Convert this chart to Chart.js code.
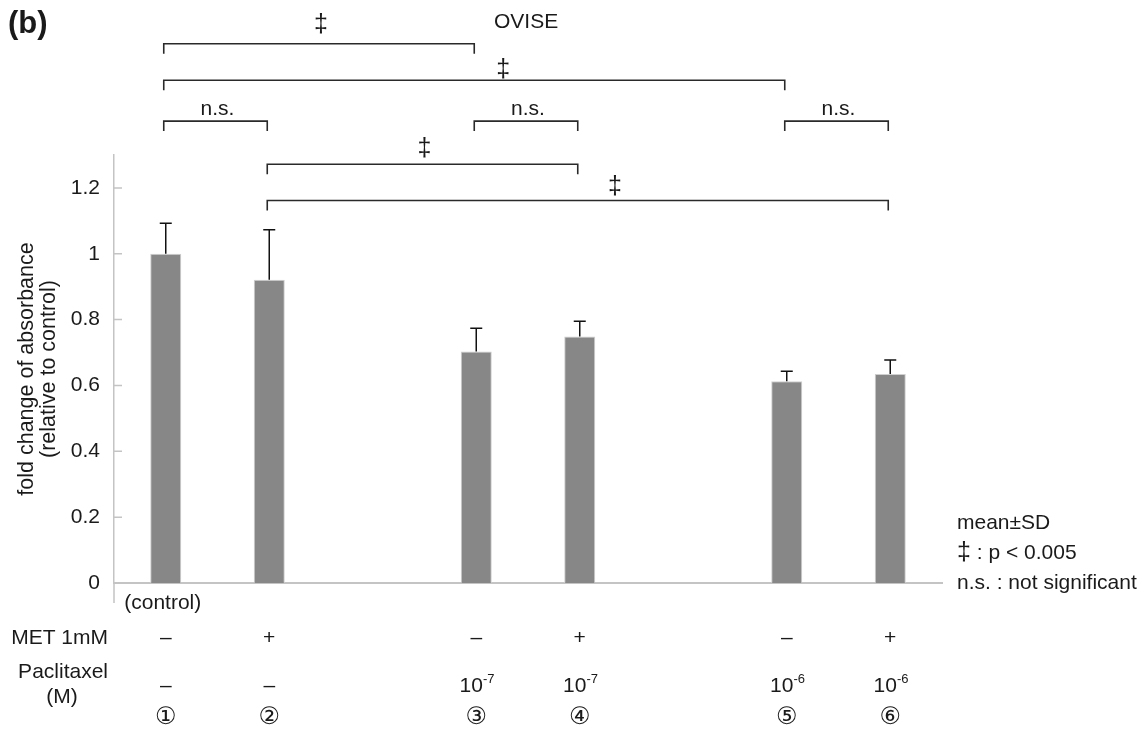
<!DOCTYPE html>
<html>
<head>
<meta charset="utf-8">
<script src="https://cdn.jsdelivr.net/npm/chart.js@4"></script>
<style>
  body { margin: 0; background: #fff; }
  #wrap { width: 1148px; height: 732px; }
</style>
</head>
<body>
<div id="wrap"><canvas id="chart" width="1148" height="732"></canvas></div>
<script>
// slots 3 and 6 are empty gaps between the groups
const categories = ['1', '2', '', '3', '4', '', '5', '6'];
const means = [1.0, 0.921, null, 0.703, 0.749, null, 0.613, 0.635];
const sds = [0.093, 0.152, null, 0.071, 0.046, null, 0.030, 0.042];
const yTicks = [0, 0.2, 0.4, 0.6, 0.8, 1, 1.2];

const circled = ['①', '②', '', '③', '④', '', '⑤', '⑥'];
const metRow = ['–', '+', '', '–', '+', '', '–', '+'];
const paclBase = ['–', '–', '', '10', '10', '', '10', '10'];
const paclExp = ['', '', '', '-7', '-7', '', '-6', '-6'];

// significance brackets: from / to slot, level on y scale, label, label position (slot, level)
const brFrom = [0, 0, 0, 3, 6, 1, 1];
const brTo = [3, 6, 1, 4, 7, 4, 7];
const brLevel = [1.638, 1.527, 1.403, 1.403, 1.403, 1.272, 1.162];
const brLabel = ['‡', '‡', 'n.s.', 'n.s.', 'n.s.', '‡', '‡'];
const brLabelAt = [1.5, 3.26, 0.5, 3.5, 6.5, 2.5, 4.34];
const brLabelLevel = [1.696, 1.558, 1.440, 1.440, 1.440, 1.318, 1.203];

const legendLines = ['mean±SD', '‡ : p < 0.005', 'n.s. : not significant'];

const FONT = "'Liberation Sans', Arial, sans-serif";
const TXT = '#1a1a1a';

// draws "‡" a bit larger than the rest of a line, like the figure does
function drawMixed(ctx, s, x, y) {
  let cx = x;
  for (const ch of s) {
    ctx.font = (ch === '‡' ? '25px ' : '21px ') + FONT;
    ctx.fillText(ch, cx, y);
    cx += ctx.measureText(ch).width;
  }
}

const extras = {
  id: 'extras',
  afterDatasetsDraw(chart) {
    const ctx = chart.ctx;
    const xs = chart.scales.x;
    const ys = chart.scales.y;
    const area = chart.chartArea;
    const meta = chart.getDatasetMeta(0);
    ctx.save();

    // y axis stub below the x axis + inward tick marks
    ctx.strokeStyle = '#c4c4c4';
    ctx.lineWidth = 1.5;
    ctx.beginPath();
    ctx.moveTo(area.left, area.bottom);
    ctx.lineTo(area.left, area.bottom + 20);
    ys.ticks.forEach(t => {
      const py = ys.getPixelForValue(t.value);
      ctx.moveTo(area.left, py);
      ctx.lineTo(area.left + 8, py);
    });
    ctx.stroke();

    // error bars (upper only)
    ctx.strokeStyle = '#111';
    ctx.lineWidth = 1.5;
    means.forEach((m, i) => {
      if (m == null) return;
      const x = meta.data[i].x;
      const y0 = ys.getPixelForValue(m);
      const y1 = ys.getPixelForValue(m + sds[i]);
      ctx.beginPath();
      ctx.moveTo(x, y0);
      ctx.lineTo(x, y1);
      ctx.moveTo(x - 6, y1);
      ctx.lineTo(x + 6, y1);
      ctx.stroke();
    });

    // brackets
    ctx.strokeStyle = '#2a2a2a';
    ctx.lineWidth = 1.6;
    ctx.fillStyle = TXT;
    ctx.textAlign = 'center';
    ctx.textBaseline = 'middle';
    brFrom.forEach((f, i) => {
      const xa = xs.getPixelForValue(f) - 2;
      const xb = xs.getPixelForValue(brTo[i]) - 2;
      const y = ys.getPixelForValue(brLevel[i]);
      ctx.beginPath();
      ctx.moveTo(xa, y + 10);
      ctx.lineTo(xa, y);
      ctx.lineTo(xb, y);
      ctx.lineTo(xb, y + 10);
      ctx.stroke();
      ctx.font = (brLabel[i] === '‡' ? '25px ' : '21px ') + FONT;
      ctx.fillText(brLabel[i], xs.getPixelForValue(brLabelAt[i]), ys.getPixelForValue(brLabelLevel[i]));
    });

    // panel letter and cell line
    ctx.textAlign = 'left';
    ctx.font = 'bold 31px ' + FONT;
    ctx.fillText('(b)', 8, 24);
    ctx.font = '21px ' + FONT;
    ctx.fillText('OVISE', 494, 22);

    // y axis title
    ctx.save();
    ctx.translate(27, (area.top + area.bottom) / 2);
    ctx.rotate(-Math.PI / 2);
    ctx.textAlign = 'center';
    ctx.font = '21.5px ' + FONT;
    ctx.fillText('fold change of absorbance', 0, 0);
    ctx.fillText('(relative to control)', 0, 22);
    ctx.restore();

    // legend notes
    ctx.textAlign = 'left';
    legendLines.forEach((s, i) => drawMixed(ctx, s, 957, 523 + i * 30));

    // condition table below the x axis
    ctx.font = '21px ' + FONT;
    ctx.textAlign = 'center';
    ctx.fillText('(control)', xs.getPixelForValue(0) - 3, 603);
    ctx.textAlign = 'right';
    ctx.fillText('MET 1mM', 108, 638);
    ctx.fillText('Paclitaxel', 108, 672);
    ctx.textAlign = 'center';
    ctx.fillText('(M)', 62, 697);
    categories.forEach((c, i) => {
      const x = xs.getPixelForValue(i);
      ctx.font = '21px ' + FONT;
      ctx.textAlign = 'center';
      if (metRow[i]) ctx.fillText(metRow[i], x, 638);
      if (paclExp[i]) {
        const w = ctx.measureText(paclBase[i]).width;
        ctx.textAlign = 'left';
        ctx.fillText(paclBase[i], x - w / 2 - 5, 686);
        ctx.font = '13px ' + FONT;
        ctx.fillText(paclExp[i], x + w / 2 - 5, 679);
      } else if (paclBase[i]) {
        ctx.fillText(paclBase[i], x, 686);
      }
      if (circled[i]) {
        ctx.font = "24px 'DejaVu Sans', " + FONT;
        ctx.textAlign = 'center';
        ctx.fillText(circled[i], x, 718);
      }
    });
    ctx.restore();
  }
};

new Chart(document.getElementById('chart'), {
  type: 'bar',
  data: {
    labels: categories,
    datasets: [{
      data: means,
      backgroundColor: '#878787',
      borderColor: '#cfcfcf',
      borderWidth: 1,
      barPercentage: 0.3,
      categoryPercentage: 1.0
    }]
  },
  options: {
    responsive: false,
    animation: false,
    layout: { padding: { top: 155, right: 206, bottom: 149, left: 0 } },
    plugins: { legend: { display: false }, tooltip: { enabled: false } },
    scales: {
      x: {
        grid: { display: false, drawTicks: false },
        ticks: { display: false },
        border: { color: '#c4c4c4', width: 2 },
        afterFit: s => { s.height = 0; }
      },
      y: {
        min: 0,
        max: 1.3,
        grid: { display: false, drawTicks: false },
        border: { color: '#c4c4c4', width: 1.5 },
        afterBuildTicks: s => { s.ticks = yTicks.map(v => ({ value: v })); },
        ticks: {
          padding: 14,
          color: TXT,
          font: { family: FONT, size: 21 },
          callback: v => String(Math.round(v * 10) / 10)
        },
        afterFit: s => { s.width = 114; }
      }
    }
  },
  plugins: [extras]
});
</script>
</body>
</html>
